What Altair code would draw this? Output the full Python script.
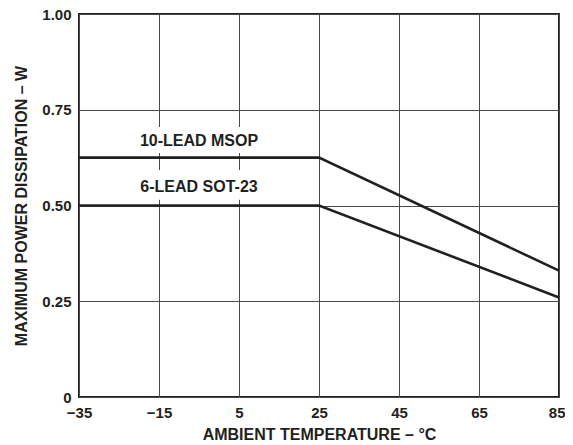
import altair as alt
import pandas as pd

# ---- data ----
temps = [-35, 25, 85]
msop_power = [0.625, 0.625, 0.33]
sot23_power = [0.5, 0.5, 0.26]
series_names = ["10-LEAD MSOP", "6-LEAD SOT-23"]
label_x = [-5, -5]
label_y = [0.668, 0.548]
box_x = [-22, 11]
box_y_lo = [0.637, 0.515]
box_y_hi = [0.705, 0.593]
x_ticks = [-35, -15, 5, 25, 45, 65, 85]
y_ticks = [0, 0.25, 0.5, 0.75, 1.0]

rows = []
for t, a, b in zip(temps, msop_power, sot23_power):
    rows.append({"temp": t, "power": a, "series": series_names[0]})
    rows.append({"temp": t, "power": b, "series": series_names[1]})
df = pd.DataFrame(rows)

labels = pd.DataFrame({
    "text": series_names,
    "x": label_x,
    "y": label_y,
    "x0": [box_x[0]] * 2,
    "x1": [box_x[1]] * 2,
    "y0": box_y_lo,
    "y1": box_y_hi,
})

FONT = "Liberation Sans"
INK = "#231f20"

xscale = alt.Scale(domain=[-35, 85], nice=False, zero=False)
yscale = alt.Scale(domain=[0, 1], nice=False)

last_tick = x_ticks[-1]
xaxis = alt.Axis(values=x_ticks, title="AMBIENT TEMPERATURE – °C", grid=True,
                 domain=False, ticks=False, labelPadding=8, titlePadding=6,
                 labelFlush=False, titleFontSize=16,
                 labelAlign={"condition": {"test": f"datum.value == {last_tick}", "value": "right"},
                             "value": "center"},
                 labelOffset={"condition": {"test": f"datum.value == {last_tick}", "value": 6},
                              "value": 0})
yaxis = alt.Axis(values=y_ticks, title="MAXIMUM POWER DISSIPATION – W", grid=True,
                 domain=False, ticks=False, labelPadding=8, titlePadding=12,
                 titleFontSize=16,
                 labelExpr="datum.value == 0 ? '0' : format(datum.value, '.2f')")

lines = alt.Chart(df).mark_line(color=INK, strokeWidth=2.6).encode(
    x=alt.X("temp:Q", scale=xscale, axis=xaxis),
    y=alt.Y("power:Q", scale=yscale, axis=yaxis),
    detail="series:N",
)

boxes = alt.Chart(labels).mark_rect(color="white").encode(
    x=alt.X("x0:Q", scale=xscale),
    x2="x1:Q",
    y=alt.Y("y0:Q", scale=yscale),
    y2="y1:Q",
)

texts = alt.Chart(labels).mark_text(font=FONT, fontWeight="bold", fontSize=16,
                                   color=INK).encode(
    x=alt.X("x:Q", scale=xscale),
    y=alt.Y("y:Q", scale=yscale),
    text="text:N",
)

chart = alt.layer(boxes, lines, texts).properties(
    width=480,
    height=383,
    autosize=alt.AutoSizeParams(type="none"),
    padding={"left": 71, "top": 6, "right": 6, "bottom": 44},
).configure_view(
    stroke=INK, strokeWidth=2
).configure_axis(
    labelFont=FONT, labelFontWeight="bold", labelFontSize=15, labelColor=INK,
    titleFont=FONT, titleFontWeight="bold", titleFontSize=16, titleColor=INK,
    gridColor="#4a4a4a", gridWidth=1, gridOpacity=1,
)

chart.save("out.html", embed_options={"renderer": "svg", "actions": False})
